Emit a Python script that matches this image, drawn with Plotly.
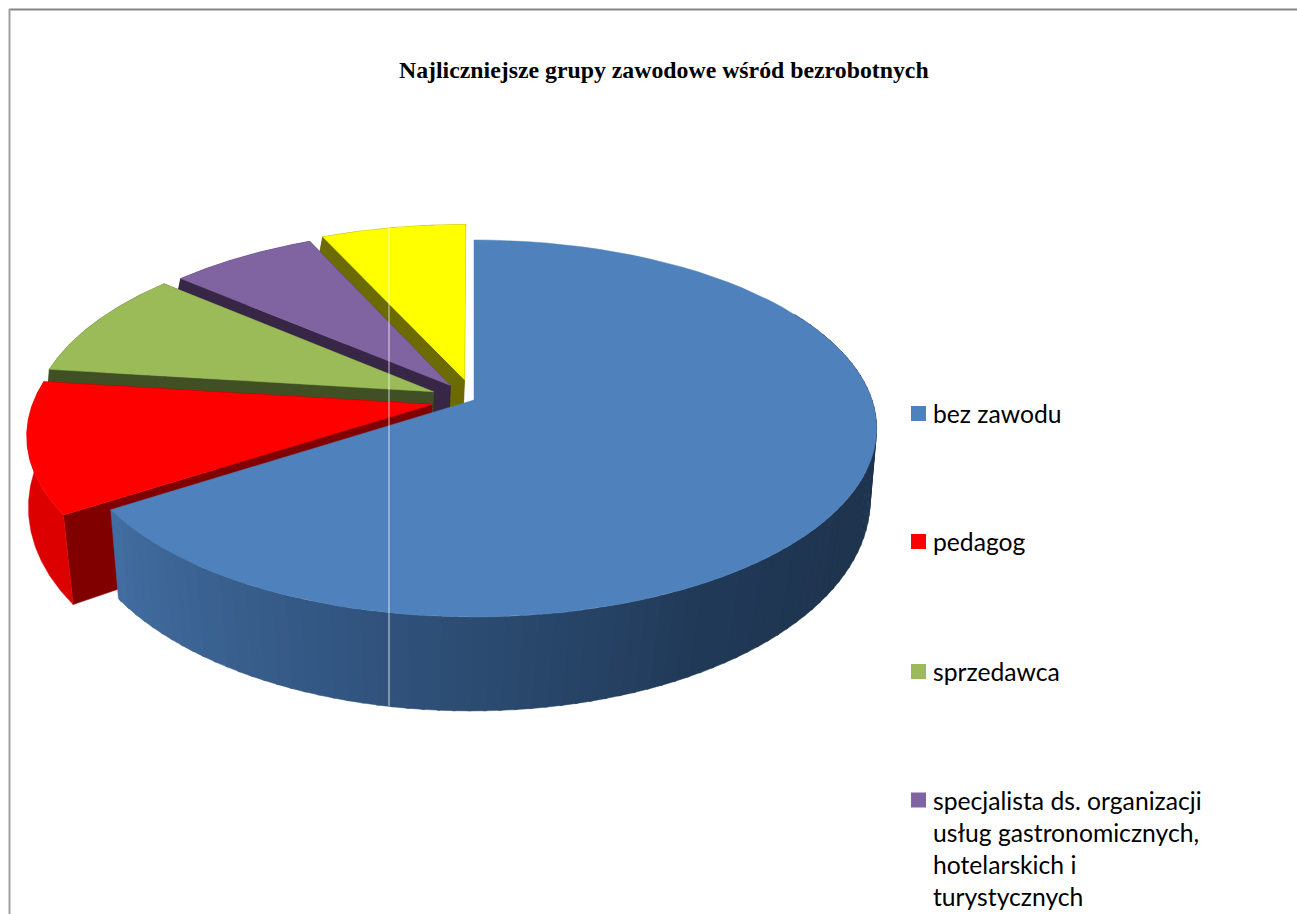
import numpy as np
import plotly.graph_objects as go

# values (share of slice, %)
categories = ["bez zawodu", "pedagog", "sprzedawca",
              "specjalista ds. organizacji usług gastronomicznych, hotelarskich i turystycznych",
              "(poza kadrem)"]
values = [65.8, 11.2, 9.3, 6.9, 6.8]
explode = [0, 0.108, 0.112, 0.10, 0.115]
colors = ["#4F81BD", "#FF0000", "#9BBB59", "#8064A2", "#FFFF00"]
cut_colors = ["#274060", "#800000", "#414F24", "#372645", "#6B6B00"]
wall_colors = ["#274060", "#DD0000", "#414F24", "#372645", "#6B6B00"]
legend_lines = [["bez zawodu"], ["pedagog"], ["sprzedawca"],
                ["specjalista ds. organizacji", "usług gastronomicznych,", "hotelarskich i", "turystycznych"]]
legend_y = [413.5, 541.5, 671.5, 800]
title = "Najliczniejsze grupy zawodowe wśród bezrobotnych"

# gradient of the front wall of the big slice, by angle
grad_angle = [60, 120, 150, 180, 200, 220, 240]
grad_r = [31, 31, 33, 44, 52, 60, 68]
grad_g = [52, 52, 58, 76, 88, 100, 112]
grad_b = [79, 79, 88, 114, 132, 148, 164]

CX, CY = 474, 400
A, B, K = 398, 184.2, 0.151          # top face projection
CX2, A2, CY2, B2, K2 = 471, 397, 478, 208.7, 0.104   # bottom face projection


def top(X, Y):
    return CX + A * X / (1 + K * Y), CY - B * Y / (1 + K * Y)


def bottom(X, Y):
    return CX2 + A2 * X / (1 + K2 * Y), CY2 - B2 * Y / (1 + K2 * Y)


def arc(a0, a1, n=80):
    return np.radians(np.linspace(a0, a1, n))


fig = go.Figure()


def poly(x, y, color):
    fig.add_trace(go.Scatter(x=x, y=y, mode="lines", fill="toself", fillcolor=color,
                             line=dict(color=color, width=0.5), hoverinfo="skip", showlegend=False))


angles = np.cumsum([0] + values) * 3.6
# paint back to front: yellow first, blue last
for i in range(len(values) - 1, -1, -1):
    a0, a1 = angles[i], angles[i + 1]
    mid = np.radians((a0 + a1) / 2)
    ox, oy = explode[i] * np.sin(mid), explode[i] * np.cos(mid)
    t = arc(a0, a1)
    X = ox + np.sin(t)
    Y = oy + np.cos(t)

    # cut faces
    if i > 0:
        for end in (0, -1):
            tx0, ty0 = top(ox, oy)
            tx1, ty1 = top(X[end], Y[end])
            bx0, by0 = bottom(ox, oy)
            bx1, by1 = bottom(X[end], Y[end])
            poly([tx0, tx1, bx1, bx0, tx0], [ty0, ty1, by1, by0, ty0], cut_colors[i])

    # outer wall
    if i == 0:
        edges = np.arange(60, a1, 2.0)
        edges = np.append(edges, a1)
        for e0, e1 in zip(edges[:-1], edges[1:]):
            s = arc(e0, min(e1 + 0.4, a1), 4)
            tx, ty = top(np.sin(s), np.cos(s))
            bx, by = bottom(np.sin(s), np.cos(s))
            m = (e0 + e1) / 2
            c = "rgb(%d,%d,%d)" % (np.interp(m, grad_angle, grad_r),
                                   np.interp(m, grad_angle, grad_g),
                                   np.interp(m, grad_angle, grad_b))
            poly(np.r_[tx, bx[::-1], tx[0]], np.r_[ty, by[::-1], ty[0]], c)
    else:
        tx, ty = top(X, Y)
        bx, by = bottom(X, Y)
        poly(np.r_[tx, bx[::-1], tx[0]], np.r_[ty, by[::-1], ty[0]], wall_colors[i])

    # top face
    tx, ty = top(np.r_[ox, X, ox], np.r_[oy, Y, oy])
    poly(tx, ty, colors[i])

# thin white seam crossing the pie in the source image
fig.add_shape(type="line", x0=389, x1=389, y0=226, y1=706,
              line=dict(color="rgba(255,255,255,0.75)", width=1))

# chart frame
fig.add_shape(type="line", x0=9, x1=1297, y0=9.5, y1=9.5, line=dict(color="#868686", width=2))
fig.add_shape(type="line", x0=9.5, x1=9.5, y0=9, y1=914, line=dict(color="#A0A0A0", width=2))

# legend, the last entry falls below the crop
for i, lines in enumerate(legend_lines):
    fig.add_trace(go.Scatter(x=[918.5], y=[legend_y[i]], mode="markers", hoverinfo="skip", showlegend=False,
                             marker=dict(symbol="square", size=15, color=colors[i], line=dict(width=0))))
    for j, txt in enumerate(lines):
        fig.add_annotation(x=932, y=legend_y[i] + j * 32.3, text=txt, showarrow=False,
                           xanchor="left", yanchor="middle", xshift=-1.5,
                           font=dict(family="Lato", size=24.7, color="#000000"))

fig.add_annotation(x=664, y=70, text="<b>%s</b>" % title, showarrow=False,
                   font=dict(family="Liberation Serif", size=23.8, color="#000000"))

fig.update_xaxes(range=[0, 1297], visible=False, fixedrange=True)
fig.update_yaxes(range=[914, 0], visible=False, fixedrange=True)
fig.update_layout(width=1297, height=914, margin=dict(l=0, r=0, t=0, b=0),
                  paper_bgcolor="white", plot_bgcolor="white", showlegend=False)

# the page body has a default margin, drop it so the plot sits at 0,0
fig.write_html("out.html", config=dict(displayModeBar=False),
               post_script="document.body.style.margin='0';document.body.style.overflow='hidden';")
